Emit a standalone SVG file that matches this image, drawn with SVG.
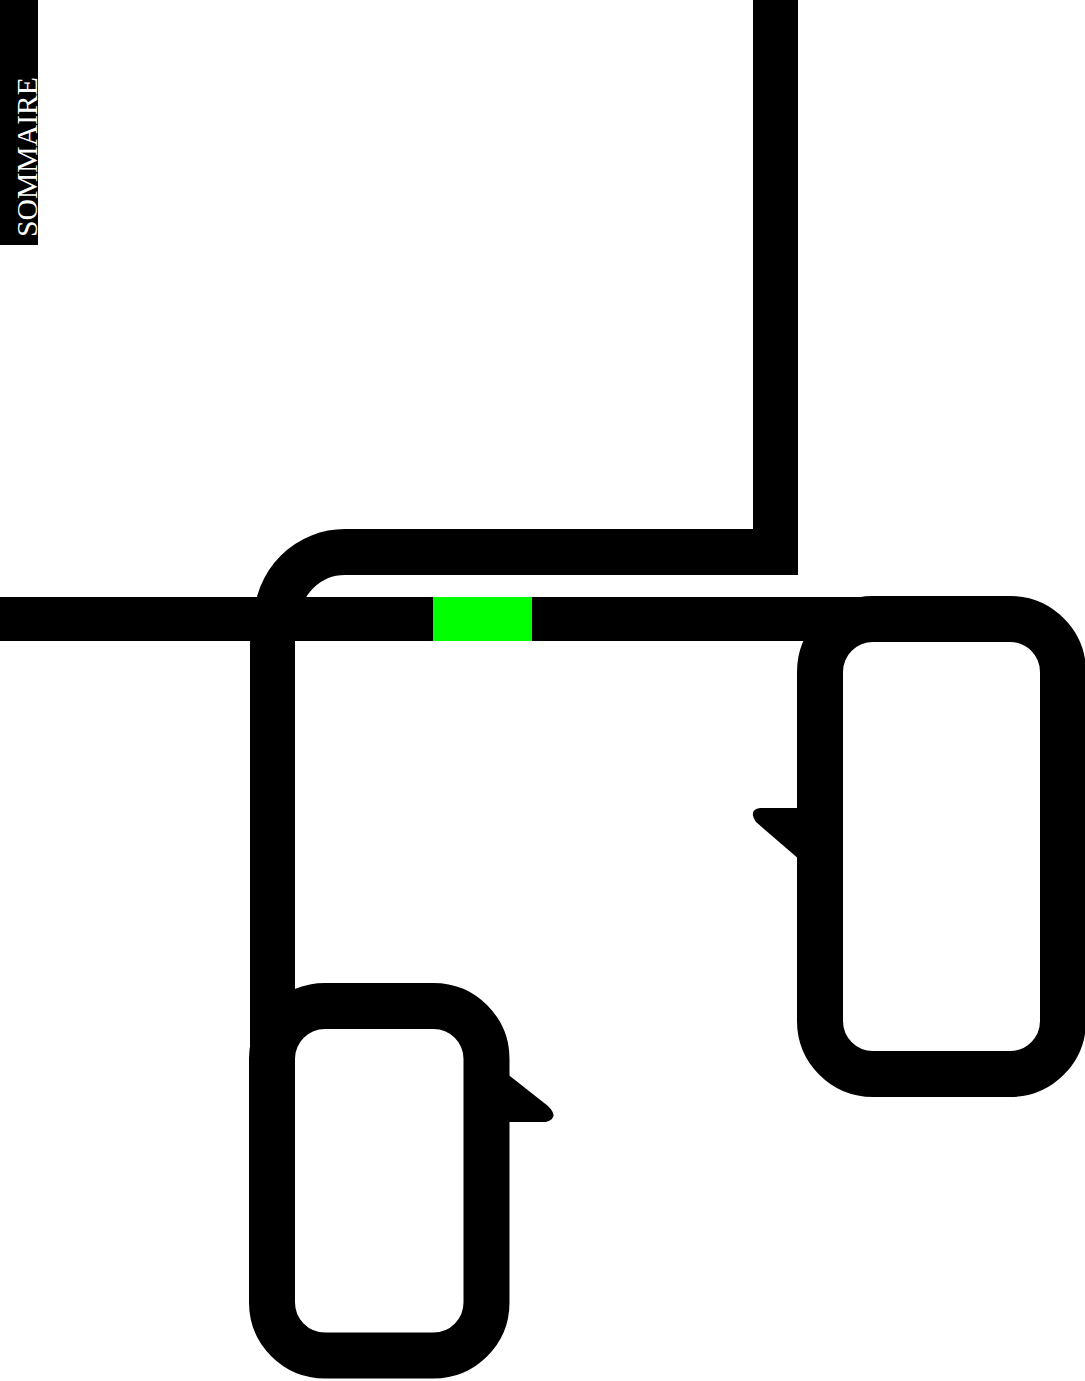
<svg xmlns="http://www.w3.org/2000/svg" width="1085" height="1381" viewBox="0 0 1085 1381">
  <style>
    .ln { fill: none; stroke: #000; stroke-width: 46; }
    .fill { fill: #000; }
    .lbl { font-family: "Liberation Serif", "DejaVu Serif", serif; font-size: 30px; fill: #fff; font-weight: 300; }
  </style>
  <rect width="1085" height="1381" fill="#fff"/>
  <g id="label-sommaire">
    <rect x="0" y="0" width="38" height="245" class="fill"/>
    <text class="lbl" transform="translate(37,237) rotate(-90)" x="0" y="0" textLength="160" lengthAdjust="spacingAndGlyphs">SOMMAIRE</text>
  </g>
  <g id="connectors">
    <rect x="753" y="0" width="45" height="575" class="fill"/>
    <path class="ln" d="M 798 552 H 345 A 68 68 0 0 0 277 620 V 625"/>
    <rect x="0" y="597" width="1012" height="44" class="fill"/>
    <rect x="250" y="630" width="45" height="533" class="fill"/>
    <rect x="433" y="597" width="99" height="44" fill="#00ff00"/>
  </g>
  <g id="bubble-right">
    <rect class="ln" x="820" y="619" width="243" height="455" rx="53" ry="53"/>
    <path class="fill" d="M 800 808 H 760 Q 748 810 756 822 L 800 860 Z"/>
  </g>
  <g id="bubble-left">
    <rect class="ln" x="272" y="1006" width="214.5" height="349.5" rx="53" ry="53"/>
    <path class="fill" d="M 506 1073 L 548 1106 Q 560 1118 546 1122 H 506 Z"/>
  </g>
</svg>
